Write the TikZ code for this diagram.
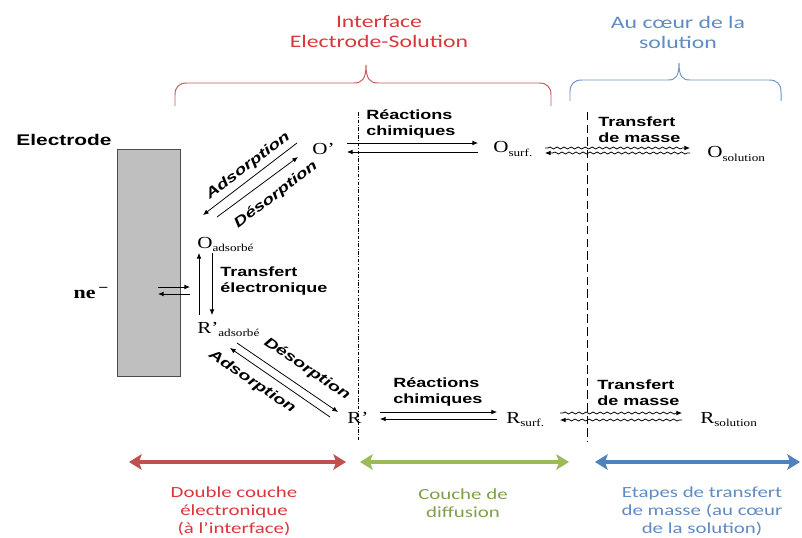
\documentclass[tikz,border=0pt]{standalone}
\usepackage{fontspec}
\setmainfont{Liberation Serif}[FakeStretch=1.25]
\newfontfamily\sansgras{Liberation Sans}[FakeStretch=1.35]
\newfontfamily\sanslegende{Carlito}[FakeStretch=1.35]
\usetikzlibrary{positioning,arrows.meta,decorations.pathmorphing}
\definecolor{fRouge}{HTML}{C0504D}
\definecolor{fVert}{HTML}{9BBB59}
\definecolor{fBleu}{HTML}{4F81BD}
\definecolor{tRouge}{HTML}{D9383A}
\definecolor{tVert}{HTML}{7FA04B}
\definecolor{tBleu}{HTML}{5F8CC3}
\definecolor{bRouge}{HTML}{C95C5C}
\definecolor{bBleu}{HTML}{7096C8}
\definecolor{grisElec}{HTML}{BFBFBF}
\newcommand{\espece}[2]{#1\raisebox{-0.45ex}{\fontsize{7.5}{8}\selectfont #2}}

\begin{document}
\begin{tikzpicture}[x=0.025cm, y=-0.025cm,
    esp/.style={inner sep=0pt, anchor=base west, font=\fontsize{12}{13}\selectfont},
    etq/.style={inner sep=0pt, anchor=west, align=left,
                font=\sansgras\bfseries\fontsize{9.5}{11.3}\selectfont},
    diag/.style={inner sep=0pt, font=\sansgras\bfseries\itshape\fontsize{10}{11}\selectfont},
    fl/.style={-{Latex[length=4pt,width=3.4pt]}, line width=0.55pt},
    ondul/.style={fl, decorate, decoration={snake, amplitude=0.7pt, segment length=5pt,
                  pre length=2pt, post length=4pt}},
    acc/.style={line width=0.7pt},
    titre/.style={inner sep=0pt, align=center, font=\sanslegende\fontsize{12.5}{14.2}\selectfont},
    zone/.style={line width=3.5pt,
                 {Stealth[length=9pt,width=11pt,inset=2pt]}-{Stealth[length=9pt,width=11pt,inset=2pt]}},
    leg/.style={inner sep=0pt, align=center, font=\sanslegende\fontsize{11}{12.8}\selectfont}]
  \useasboundingbox[fill=white] (0,0) rectangle (802,538);

  % regions at the top
  \node[titre, text=tRouge] (interface) at (379,32) {Interface\\Electrode-Solution};
  \node[titre, text=tBleu] (coeur) at (678,32) {Au cœur de la\\solution};
  \draw[acc, draw=bRouge] (175,106) -- (175,95) .. controls (175,87) and (179,83) .. (187,83)
    -- (354,83) .. controls (362,83) and (366,79) .. (366,65)
    .. controls (366,79) and (370,83) .. (378,83) -- (539,83)
    .. controls (547,83) and (551,87) .. (551,95) -- (551,106);
  \draw[acc, draw=bBleu] (570,101) -- (570,92) .. controls (570,84) and (574,80) .. (582,80)
    -- (668,80) .. controls (676,80) and (679,76) .. (679,63)
    .. controls (679,76) and (682,80) .. (690,80) -- (769,80)
    .. controls (777,80) and (781,84) .. (781,92) -- (781,101);

  % electrode
  \node[inner sep=0pt, font=\sansgras\bfseries\fontsize{11}{12}\selectfont] (electrode) at (64,140) {Electrode};
  \draw[draw=gray!60!black, fill=grisElec, line width=0.7pt] (117,149) rectangle (180,376);
  \coordinate (surface) at (180,291);
  \node[inner sep=0pt, font=\bfseries\fontsize{12.5}{13}\selectfont] (ne) at (91,293)
    {ne\,\raisebox{0.7ex}{\fontsize{10}{10}\selectfont −}};
  \draw[fl] ([shift={(-22,-4)}]surface) -- ([shift={(10,-4)}]surface);
  \draw[fl] ([shift={(10,3)}]surface) -- ([shift={(-22,3)}]surface);

  % species
  \node[esp] (Oads) at (197,248) {\espece{O}{adsorbé}};
  \node[esp] (Rads) at (197,333) {\espece{R'}{adsorbé}};
  \node[esp] (Oprime) at (312,155) {O'};
  \node[esp] (Osurf) at (493,153) {\espece{O}{surf.}};
  \node[esp] (Osol) at (707,158) {\espece{O}{solution}};
  \node[esp] (Rprime) at (347,423) {R'};
  \node[esp] (Rsurf) at (506,423) {\espece{R}{surf.}};
  \node[esp] (Rsol) at (700,423) {\espece{R}{solution}};

  % step labels
  \node[etq] (reacH) at (366,124) {Réactions\\chimiques};
  \node[etq] (transH) at (598,130) {Transfert\\de masse};
  \node[etq] (reacB) at (393,392) {Réactions\\chimiques};
  \node[etq] (transB) at (597,393) {Transfert\\de masse};
  \node[etq] (transE) at (220,281) {Transfert\\électronique};
  \node[diag, rotate=37] (adsH) at (248,166) {Adsorption};
  \node[diag, rotate=37] (desH) at (276,195) {Désorption};
  \node[diag, rotate=-34] (desB) at (307,369) {Désorption};
  \node[diag, rotate=-34] (adsB) at (252,382) {Adsorption};

  % boundaries
  \draw[line width=0.6pt, dash pattern=on 2.5pt off 1.2pt on 0.6pt off 1.2pt] (358,112) -- (358,442);
  \draw[line width=0.7pt, dash pattern=on 6pt off 3pt] (587,112) -- (587,442);

  % electron transfer
  \draw[fl] ([shift={(2,-18)}]Rads.base west) -- ([shift={(2,5)}]Oads.base west);
  \draw[fl] ([shift={(15,5)}]Oads.base west) -- ([shift={(15,-18)}]Rads.base west);

  % adsorption / desorption
  \draw[fl] ([shift={(-15,-12)}]Oprime.base west) -- ([shift={(6,-33)}]Oads.base west);
  \draw[fl] ([shift={(20,-31)}]Oads.base west) -- ([shift={(-14,2)}]Oprime.base west);
  \draw[fl] ([shift={(40,10)}]Rads.base west) -- ([shift={(-9,-11)}]Rprime.base west);
  \draw[fl] ([shift={(-17,-6)}]Rprime.base west) -- ([shift={(33,15)}]Rads.base west);

  % chemical reactions
  \draw[fl] ([shift={(35,-12)}]Oprime.base west) -- ([shift={(-15,-10)}]Osurf.base west);
  \draw[fl] ([shift={(-15,-1)}]Osurf.base west) -- ([shift={(35,-3)}]Oprime.base west);
  \draw[fl] ([shift={(33,-11)}]Rprime.base west) -- ([shift={(-9,-11)}]Rsurf.base west);
  \draw[fl] ([shift={(-9,-4)}]Rsurf.base west) -- ([shift={(33,-4)}]Rprime.base west);

  % mass transfer
  \draw[ondul] ([shift={(52,-5)}]Osurf.base west) -- ([shift={(-17,-10)}]Osol.base west);
  \draw[ondul] ([shift={(-17,-5)}]Osol.base west) -- ([shift={(52,0)}]Osurf.base west);
  \draw[ondul] ([shift={(54,-10)}]Rsurf.base west) -- ([shift={(-18,-10)}]Rsol.base west);
  \draw[ondul] ([shift={(-18,-3)}]Rsol.base west) -- ([shift={(54,-3)}]Rsurf.base west);

  % layers
  \coordinate (dcG) at (129,462);
  \coordinate (dcD) at (346,462);
  \coordinate (cdG) at (360,462);
  \coordinate (cdD) at (569,462);
  \coordinate (etG) at (595,462);
  \coordinate (etD) at (800,462);
  \draw[zone, color=fRouge] (dcG) -- (dcD);
  \draw[zone, color=fVert] (cdG) -- (cdD);
  \draw[zone, color=fBleu] (etG) -- (etD);
  \node[leg, text=tRouge] (dbl) at (234,511) {Double couche\\électronique\\(à l’interface)};
  \node[leg, text=tVert] (diff) at (463,503) {Couche de\\diffusion};
  \node[leg, text=tBleu] (etap) at (702,511) {Etapes de transfert\\de masse (au cœur\\de la solution)};
\end{tikzpicture}
\end{document}
